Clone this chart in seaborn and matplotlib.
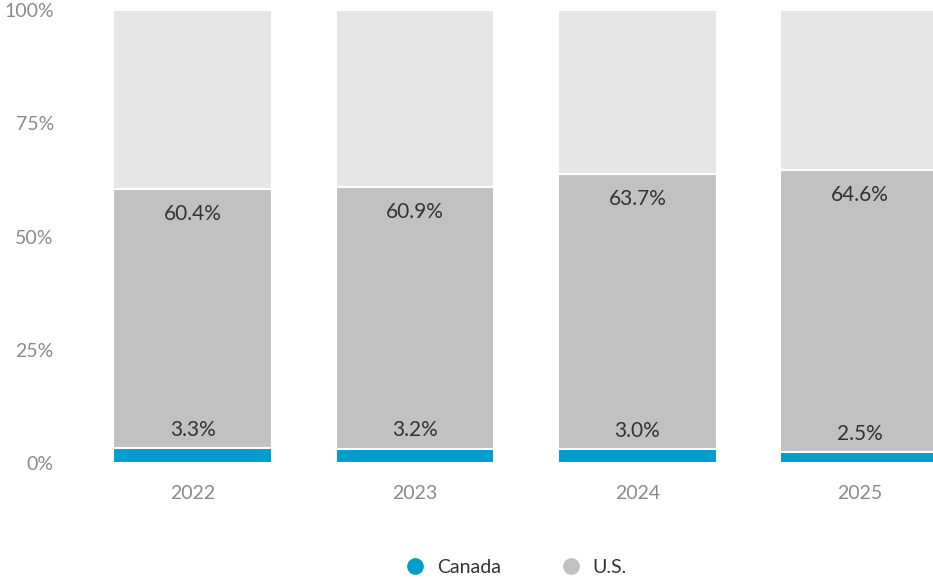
import matplotlib
matplotlib.use("Agg")
import matplotlib.pyplot as plt
from matplotlib.lines import Line2D
import pandas as pd
import seaborn as sns

years = ["2022", "2023", "2024", "2025"]
us_share = [60.4, 60.9, 63.7, 64.6]
canada_share = [3.3, 3.2, 3.0, 2.5]
total_share = [100, 100, 100, 100]

df = pd.DataFrame({"year": years, "total": total_share,
                   "us": us_share, "canada": canada_share})

sns.set_style("white")
plt.rcParams["font.family"] = ["Lato", "DejaVu Sans"]

fig = plt.figure(figsize=(9.33, 5.79), dpi=100)
ax = fig.add_axes([0.0874, 0.2003, 0.9126, 0.7824])

bar_kw = dict(width=0.715, edgecolor="white", linewidth=1.5, saturation=1, ax=ax)
sns.barplot(data=df, x="year", y="total", color="#e6e6e6", **bar_kw)
sns.barplot(data=df, x="year", y="us", color="#c1c1c1", **bar_kw)
sns.barplot(data=df, x="year", y="canada", color="#009dcf", **bar_kw)

for i, (u, c) in enumerate(zip(us_share, canada_share)):
    ax.annotate(f"{u:.1f}%", (i, u), xytext=(0, -18), textcoords="offset points",
                ha="center", va="center", fontsize=15, color="#333333")
    ax.annotate(f"{c:.1f}%", (i, c), xytext=(0, 13), textcoords="offset points",
                ha="center", va="center", fontsize=15, color="#333333")

ax.set_ylim(0, 100)
ax.set_xlim(-0.5, 3.33)
ax.set_yticks([0, 25, 50, 75, 100])
ax.set_yticklabels(["0%", "25%", "50%", "75%", "100%"])
ax.tick_params(axis="y", length=0, pad=20, labelsize=14, labelcolor="#8a8a8a")
ax.tick_params(axis="x", length=0, pad=16, labelsize=14, labelcolor="#8a8a8a")
ax.set_xlabel("")
ax.set_ylabel("")
sns.despine(ax=ax, left=True, bottom=True)

handles = [Line2D([], [], marker="o", linestyle="", markersize=11,
                  markerfacecolor="#009dcf", markeredgecolor="#009dcf", label="Canada"),
           Line2D([], [], marker="o", linestyle="", markersize=11,
                  markerfacecolor="#c1c1c1", markeredgecolor="#c1c1c1", label="U.S.")]
leg = fig.legend(handles=handles, loc="lower center", bbox_to_anchor=(0.548, -0.025),
                 ncol=2, frameon=False, fontsize=14, handletextpad=0.1,
                 columnspacing=2.6)
for t in leg.get_texts():
    t.set_color("#333333")

fig.savefig("out.png", dpi=100)
